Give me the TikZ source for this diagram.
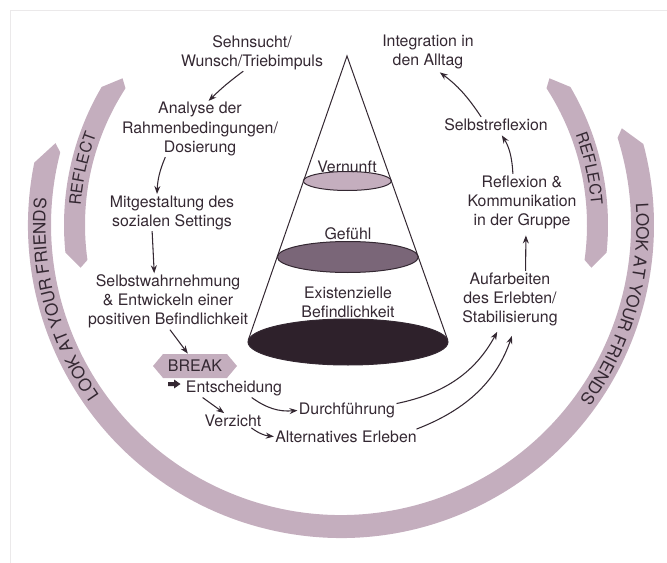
\documentclass[tikz,border=0pt]{standalone}
\usepackage{fontspec}
\setmainfont{TeX Gyre Heros}
\usetikzlibrary{arrows.meta,decorations.text,shapes.symbols}

\definecolor{bandmauve}{RGB}{196,174,190}
\definecolor{ink}{RGB}{52,40,50}
\definecolor{conemid}{RGB}{122,102,120}
\definecolor{conedark}{RGB}{46,33,43}

\newcommand{\lblfont}{\fontsize{11.9}{14.3}\selectfont}
\newcommand{\bandfont}{\fontsize{12.8}{15}\selectfont}
\newcommand{\reflfont}{\fontsize{12}{14}\selectfont}

\tikzset{every picture/.style={line width=0.75pt}}
\tikzset{
  lbl/.style={inner sep=0.75pt, align=center, text=ink, font=\lblfont},
  flow/.style={color=ink, line width=0.8pt, -{Stealth[length=6pt,width=4.5pt]}},
  band/.style={fill=bandmauve, draw=none},
  bandtxt/.style={decorate, decoration={text along path, text align=center, text color=ink, text={#1}}},
}

\begin{document}
\begin{tikzpicture}[x=0.75pt,y=0.75pt,yscale=-1,xscale=1]
\useasboundingbox (0,0) rectangle (667,563);

%Straight Lines [page edge]
\draw [color=ink!10, line width=0.5pt] (10,563) -- (10,10) -- (667,10) ;

%Shape: Arc [outer band]
\begin{scope}[shift={(341,225)}, yscale=-1]
\fill [band] (168.5:313) arc [start angle=168.5, end angle=375, radius=313] -- (19:297) -- (17.5:290) arc [start angle=17.5, end angle=-194.5, radius=290] -- (164:297) -- cycle ;
\path [bandtxt={|\bandfont|LOOK AT YOUR FRIENDS}] (230:295.5) arc [start angle=230, end angle=160, radius=295.5] ;
\path [bandtxt={|\bandfont|LOOK AT YOUR FRIENDS}] (19:295.5) arc [start angle=19, end angle=-51, radius=295.5] ;
\end{scope}

%Shape: Arc [reflect bands]
\begin{scope}[shift={(336,225)}, yscale=-1]
\fill [band] (149.5:272) arc [start angle=149.5, end angle=185.8, radius=272] -- (189.5:259) -- (188:251) arc [start angle=188, end angle=147, radius=251] -- (145.5:259) -- cycle ;
\fill [band] (30.5:272) arc [start angle=30.5, end angle=-5.8, radius=272] -- (-9.5:259) -- (-8:251) arc [start angle=-8, end angle=33, radius=251] -- (34.5:259) -- cycle ;
\path [bandtxt={|\reflfont|REFLECT}] (189.5:256) arc [start angle=189.5, end angle=145.5, radius=256] ;
\path [bandtxt={|\reflfont|REFLECT}] (34.5:256) arc [start angle=34.5, end angle=-9.5, radius=256] ;
\end{scope}

%Shape: Ellipse [cone layers]
\draw [color=ink, fill=conedark] (348,342) ellipse [x radius=100, y radius=23] ;
\draw [color=ink, fill=conemid] (347.8,257) ellipse [x radius=70.5, y radius=15.5] ;
\draw [color=ink, fill=bandmauve] (347.3,181) ellipse [x radius=44, y radius=9.5] ;
%Straight Lines [cone]
\draw [color=ink] (248.3,340) -- (347,56) -- (447.7,340) ;

% Text Node
\draw (347,166.5) node (vern) [lbl] {Vernunft};
% Text Node
\draw (348,234) node (gef) [lbl] {Gefühl};
% Text Node
\draw (348,302) node (exis) [lbl] {Existenzielle\\Befindlichkeit};

% Text Node
\draw (252,52.5) node (sehn) [lbl] {Sehnsucht/\\Wunsch/Triebimpuls};
% Text Node
\draw (200,129) node (anal) [lbl] {Analyse der\\Rahmenbedingungen/\\Dosierung};
% Text Node
\draw (172,212.5) node (mitg) [lbl] {Mitgestaltung des\\sozialen Settings};
% Text Node
\draw (168,301.5) node (selbw) [lbl] {Selbstwahrnehmung\\\& Entwickeln einer\\positiven Befindlichkeit};
% Text Node
\draw (195,366) node (brk) [lbl, shape=signal, signal to=east and west, signal pointer angle=100, fill=bandmauve, minimum width=63pt, minimum height=18pt, font=\fontsize{12}{14}\selectfont] {BREAK};
% Text Node
\draw (234,388.5) node (ents) [lbl] {Entscheidung};
% Text Node
\draw (233,420.5) node (verz) [lbl] {Verzicht};
% Text Node
\draw (347,410.5) node (durch) [lbl] {Durchführung};
% Text Node
\draw (346,436.5) node (alt) [lbl] {Alternatives Erleben};

% Text Node
\draw (428,51.5) node (integ) [lbl] {Integration in\\den Alltag};
% Text Node
\draw (496,124.5) node (selbr) [lbl] {Selbstreflexion};
% Text Node
\draw (522,202) node (refl) [lbl] {Reflexion \&\\Kommunikation\\in der Gruppe};
% Text Node
\draw (510,299) node (aufa) [lbl] {Aufarbeiten\\des Erlebten/\\Stabilisierung};

%Shape: Right Arrow
\fill [ink] (168,382) -- (174,382) -- (174,379.5) -- (180.5,384) -- (174,388.5) -- (174,386) -- (168,386) -- cycle ;

%Curve Lines
\draw [flow] (sehn.-115) to [bend left=4] (anal.73) ;
\draw [flow] (anal.-141) to [bend left=10] (mitg.129) ;
\draw [flow] (mitg.-137) -- (selbw.116) ;
\draw [flow] (selbw.-86) -- (brk.120) ;
\draw [flow] (ents.-164) -- (verz.140) ;
\draw [flow] (ents.-27) to [bend left=20] (durch.west) ;
\draw [flow] (verz.-22) to [bend left=15] (alt.west) ;
\draw [flow, shorten >=4pt] (durch.8) to [bend left=25] (aufa.-110) ;
\draw [flow, shorten >=7pt] (alt.6) to [bend left=25] (aufa.-80) ;
\draw [flow, shorten >=4pt] (aufa.61) -- (refl.-82) ;
\draw [flow, shorten >=3pt] (refl.108) to [bend left=15] (selbr.-64) ;
\draw [flow, shorten >=3pt] (selbr.153) to [bend left=10] (integ.-65) ;

\end{tikzpicture}
\end{document}
